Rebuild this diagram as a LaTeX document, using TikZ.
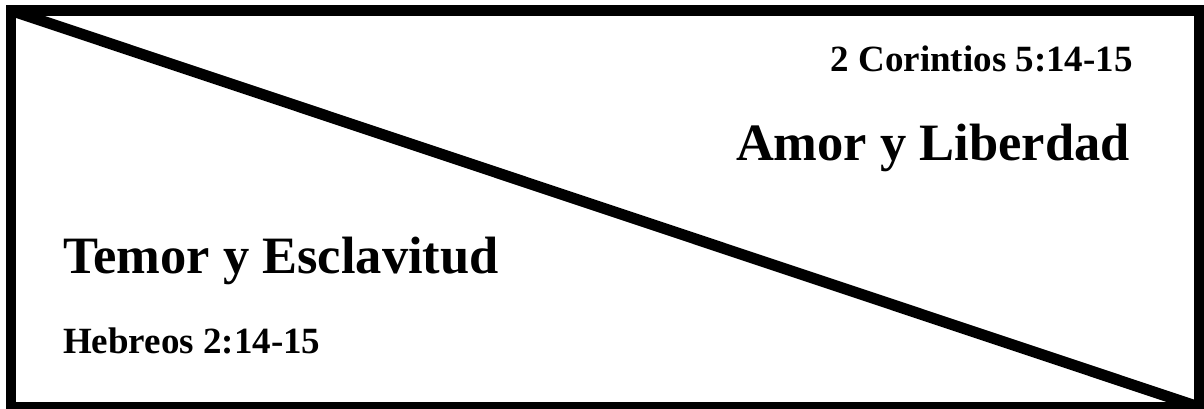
\documentclass[tikz,border=0pt]{standalone}
\usepackage{fontspec}
\setmainfont{Liberation Serif}
\begin{document}
\begin{tikzpicture}[x=1pt,y=-1pt,
  frame/.style={draw=black,line width=10.5pt,line join=miter},
  diag/.style={draw=black,line width=11pt},
  big/.style={inner sep=0pt,font=\fontsize{52.5}{60}\selectfont\bfseries},
  ref/.style={inner sep=0pt,font=\fontsize{37}{44}\selectfont\bfseries}]
\useasboundingbox (0,0) rectangle (1204,409);
\coordinate (tl) at (11,10.5);
\coordinate (br) at (1199,407);
\draw[frame] (tl) rectangle (br);
\draw[diag] (tl) -- (br);
\node[ref,anchor=base east] (cor) at (1133,72) {2 Corintios 5:14-15};
\node[big,anchor=base east] (amor) at (1130,160) {Amor y Liberdad};
\node[big,anchor=base west] (temor) at (63,273) {Temor y Esclavitud};
\node[ref,anchor=base west] (heb) at (63,353) {Hebreos 2:14-15};
\end{tikzpicture}
\end{document}
